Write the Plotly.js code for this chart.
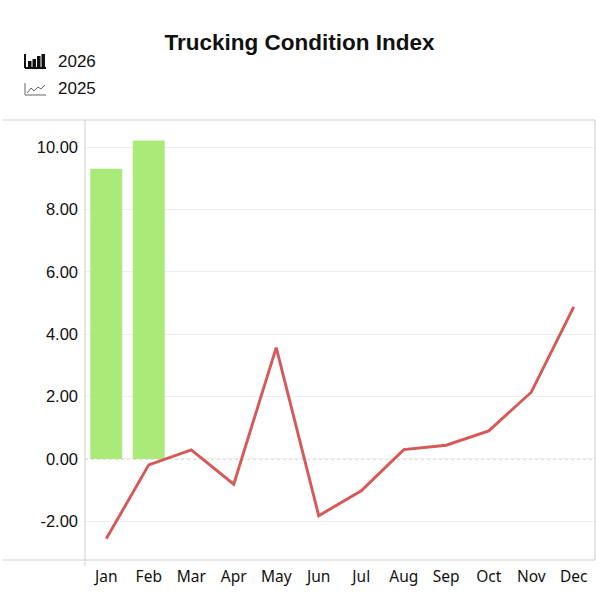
<!DOCTYPE html>
<html>
<head>
<meta charset="utf-8">
<script src="https://cdn.plot.ly/plotly-3.0.1.min.js"></script>
<style>html,body{margin:0;padding:0;background:#fff;}#chart{width:599px;height:599px;}</style>
</head>
<body>
<div id="chart"></div>
<script>
const months = ["Jan","Feb","Mar","Apr","May","Jun","Jul","Aug","Sep","Oct","Nov","Dec"];
const months2026 = ["Jan","Feb"];
const values2026 = [9.31, 10.21];
const values2025 = [-2.56, -0.19, 0.29, -0.81, 3.57, -1.82, -1.02, 0.30, 0.44, 0.90, 2.14, 4.88];
const yTicks = [-2, 0, 2, 4, 6, 8, 10];
const yTickLabels = ["-2.00", "0.00", "2.00", "4.00", "6.00", "8.00", "10.00"];
const seriesNames = ["2026", "2025"];
const chartTitle = "Trucking Condition Index";

const font = "Liberation Sans, Arial, sans-serif";
const xfont = "Noto Sans, Open Sans, sans-serif";

const traces = [
  {type: "bar", x: months2026, y: values2026, name: seriesNames[0],
   marker: {color: "#a9ea78"}, width: 0.75},
  {type: "scatter", mode: "lines", x: months, y: values2025, name: seriesNames[1],
   line: {color: "#d85858", width: 2.9}}
];

const L = -82/510, R = 1.0;
const shapes = [
  {type: "line", xref: "paper", yref: "paper", x0: L, x1: R, y0: 1, y1: 1, line: {color: "#cfcfcf", width: 1}},
  {type: "line", xref: "paper", yref: "paper", x0: L, x1: R, y0: 0, y1: 0, line: {color: "#cfcfcf", width: 1}},
  {type: "line", xref: "paper", yref: "paper", x0: R, x1: R, y0: 0, y1: 1, line: {color: "#cfcfcf", width: 1}},
  {type: "line", xref: "paper", yref: "paper", x0: 0, x1: 0, y0: -6/440, y1: 1, line: {color: "#cfcfcf", width: 1}},
  {type: "line", xref: "paper", yref: "y", x0: 0, x1: 1, y0: 0, y1: 0, line: {color: "#bdbdbd", width: 1, dash: "dot"}, layer: "below"}
];

const W = 510, H = 440, ox = 85, oy = 120;
function px(x){ return (x - ox) / W; }
function py(y){ return 1 - (y - oy) / H; }
// bar icon
shapes.push({type: "line", xref: "paper", yref: "paper", x0: px(25), x1: px(25), y0: py(54), y1: py(68), line: {color: "#111", width: 2}});
shapes.push({type: "line", xref: "paper", yref: "paper", x0: px(25), x1: px(46), y0: py(68), y1: py(68), line: {color: "#111", width: 2}});
const barIcon = [[28,61],[32.5,59],[37,56],[41.5,54]];
barIcon.forEach(b => shapes.push({type: "rect", xref: "paper", yref: "paper", x0: px(b[0]), x1: px(b[0]+3.5), y0: py(b[1]), y1: py(67), fillcolor: "#111", line: {width: 0}}));
// line icon
shapes.push({type: "line", xref: "paper", yref: "paper", x0: px(25), x1: px(25), y0: py(83), y1: py(95), line: {color: "#666", width: 1}});
shapes.push({type: "line", xref: "paper", yref: "paper", x0: px(25), x1: px(46), y0: py(95), y1: py(95), line: {color: "#666", width: 1}});
shapes.push({type: "path", xref: "paper", yref: "paper",
  path: `M ${px(27)},${py(93)} L ${px(31)},${py(88)} L ${px(34)},${py(91)} L ${px(38)},${py(87)} L ${px(41)},${py(89)} L ${px(45)},${py(85)}`,
  line: {color: "#666", width: 1}});

const annotations = [
  {xref: "paper", yref: "paper", x: px(56), y: py(62), text: seriesNames[0], showarrow: false, xanchor: "left", yanchor: "middle", font: {family: font, size: 17, color: "#111"}},
  {xref: "paper", yref: "paper", x: px(56), y: py(89), text: seriesNames[1], showarrow: false, xanchor: "left", yanchor: "middle", font: {family: font, size: 17, color: "#111"}}
];

const layout = {
  width: 599, height: 599,
  margin: {l: 85, r: 4, t: 120, b: 39},
  paper_bgcolor: "#fff", plot_bgcolor: "#fff",
  showlegend: false,
  title: {text: "<b>" + chartTitle + "</b>", x: 0.5, xref: "container", xanchor: "center", y: 1 - 42/599, yanchor: "middle",
          font: {family: font, size: 22.5, color: "#111"}},
  xaxis: {type: "category", categoryorder: "array", categoryarray: months, range: [-0.5, 11.5],
          showgrid: false, zeroline: false, showline: false, ticks: "", ticklabelstandoff: 5,
          tickfont: {family: xfont, size: 15.5, color: "#111"}, fixedrange: true},
  yaxis: {range: [-3.24, 10.87], tickvals: yTicks, ticktext: yTickLabels, showgrid: true, gridcolor: "#efefef",
          zeroline: false, showline: false, ticks: "", ticklabelstandoff: 6,
          tickfont: {family: font, size: 16.5, color: "#111"}, fixedrange: true},
  shapes: shapes,
  annotations: annotations
};

Plotly.newPlot("chart", traces, layout, {displayModeBar: false, staticPlot: true});
</script>
</body>
</html>
